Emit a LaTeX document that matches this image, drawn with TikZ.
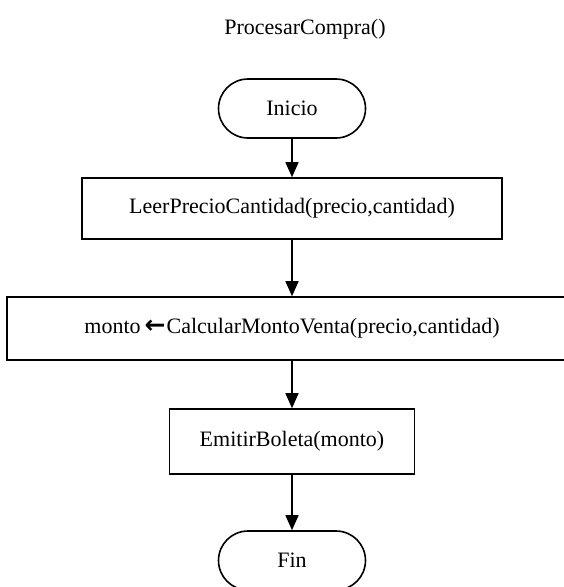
\documentclass[tikz,border=0pt]{standalone}
\usepackage{fontspec}
\setmainfont{Liberation Serif}
\newfontfamily\symfont{DejaVu Sans}
\usetikzlibrary{shapes.misc,arrows.meta}
\begin{document}
\begin{tikzpicture}[x=1pt,y=-1pt,
  every node/.style={font=\fontsize{22}{26}\selectfont},
  proc/.style={draw,line width=1.6pt,rectangle,inner sep=0pt,minimum height=61pt},
  term/.style={draw,line width=1.6pt,rounded rectangle,inner sep=0pt,minimum width=147pt,minimum height=59pt},
  flow/.style={line width=1.6pt,-{Triangle[length=15pt,width=13pt]}}]
\useasboundingbox (0,0) rectangle (564,587);
\node (title) at (305,29) {ProcesarCompra()};
\node[term] (inicio) at (292,108.5) {Inicio};
\node[proc,minimum width=420pt] (leer) at (292,208.5) {LeerPrecioCantidad(precio,cantidad)};
\node[proc,minimum width=570pt,minimum height=63pt] (calc) at (292,328.5)
  {monto\kern4pt{\symfont\bfseries\fontsize{25}{26}\selectfont ←}\kern1pt CalcularMontoVenta(precio,cantidad)};
\node[proc,minimum width=245pt,minimum height=65pt] (emitir) at (292,441.5) {EmitirBoleta(monto)};
\node[term] (fin) at (292,560.5) {Fin};
\draw[flow] (inicio) -- (leer);
\draw[flow] (leer) -- (calc);
\draw[flow] (calc) -- (emitir);
\draw[flow] (emitir) -- (fin);
\end{tikzpicture}
\end{document}
